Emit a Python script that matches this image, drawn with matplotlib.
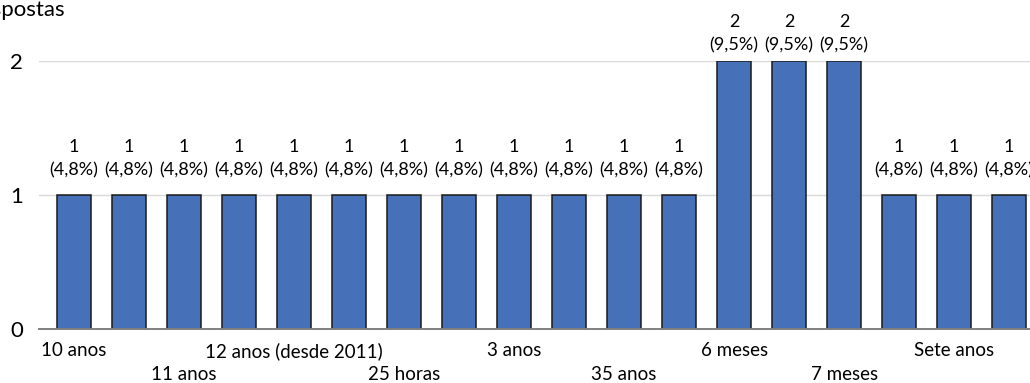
import matplotlib
matplotlib.use("Agg")
import matplotlib.pyplot as plt

# Responses per answer (18 answer groups, sorted alphabetically)
counts = [1, 1, 1, 1, 1, 1, 1, 1, 1, 1, 1, 1, 2, 2, 2, 1, 1, 1]
# Only every other category name fits under the axis
tick_positions = [0, 2, 4, 6, 8, 10, 12, 14, 16]
tick_labels = ["10 anos", "11 anos", "12 anos (desde 2011)", "25 horas",
               "3 anos", "35 anos", "6 meses", "7 meses", "Sete anos"]
y_ticks = [0, 1, 2]
y_title = "Respostas"

total = sum(counts)

plt.rcParams["font.family"] = ["Lato", "DejaVu Sans"]

W, H = 1030, 383
fig = plt.figure(figsize=(W / 100, H / 100), dpi=100)

left_px, right_px = 39, 1030
bottom_px, top_px = 329, 61
ax = fig.add_axes([left_px / W, (H - bottom_px) / H,
                   (right_px - left_px) / W, (bottom_px - top_px) / H])

x = list(range(len(counts)))
ax.bar(x, counts, width=0.62, color="#4670b8", edgecolor="#1a1a1a",
       linewidth=1.1, zorder=3)

ax.set_xlim(-0.636, 17.38)
ax.set_ylim(0, 2)
ax.set_yticks(y_ticks)
ax.yaxis.grid(True, color="#d9d9d9", linewidth=1.0, zorder=0)
ax.set_axisbelow(True)

for s in ["top", "right", "left"]:
    ax.spines[s].set_visible(False)
ax.spines["bottom"].set_color("#808080")
ax.spines["bottom"].set_linewidth(1.4)
ax.spines["bottom"].set_zorder(4)

ax.tick_params(axis="y", length=0, pad=11.5, labelsize=16, labelcolor="#000000")
ax.tick_params(axis="x", length=0, labelsize=13.5, labelcolor="#000000")

ax.set_xticks(tick_positions)
ax.set_xticklabels(tick_labels)
for i, tick in enumerate(ax.xaxis.get_major_ticks()):
    tick.set_pad(9.5 if i % 2 == 0 else 27)

# value and share labels above each bar
ymax = max(counts)
for xi, v in zip(x, counts):
    pct = f"({v / total * 100:.1f}%)".replace(".", ",")
    lift = 16 if v == ymax else 25
    ax.annotate(str(v), (xi, v), xytext=(0, lift + 23), textcoords="offset pixels",
                ha="center", va="center", fontsize=13, annotation_clip=False)
    ax.annotate(pct, (xi, v), xytext=(0, lift), textcoords="offset pixels",
                ha="center", va="center", fontsize=13, annotation_clip=False)

fig.text(65 / W, 1 - 10 / H, y_title, ha="right", va="center", fontsize=16)

fig.savefig("out.png", dpi=100)
